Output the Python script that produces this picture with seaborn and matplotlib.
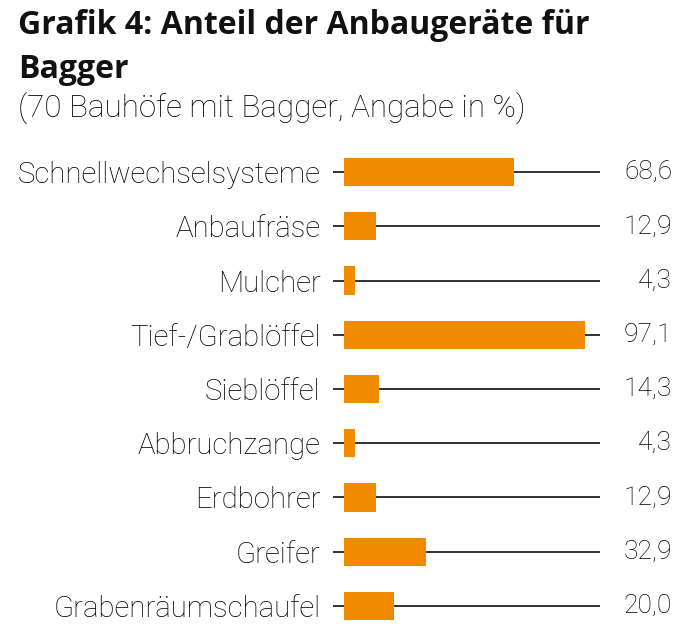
import matplotlib
matplotlib.use("Agg")
import matplotlib.pyplot as plt
import matplotlib.transforms as mtransforms
import seaborn as sns
import pandas as pd

categories = ["Schnellwechselsysteme", "Anbaufräse", "Mulcher", "Tief-/Grablöffel",
              "Sieblöffel", "Abbruchzange", "Erdbohrer", "Greifer", "Grabenräumschaufel"]
values = [68.6, 12.9, 4.3, 97.1, 14.3, 4.3, 12.9, 32.9, 20.0]
title_lines = ["Grafik 4: Anteil der Anbaugeräte für", "Bagger"]
subtitle = "(70 Bauhöfe mit Bagger, Angabe in %)"

df = pd.DataFrame({"cat": categories, "val": values})

sns.set_theme(style="white")
plt.rcParams["font.family"] = ["Roboto", "DejaVu Sans"]

W, H = 700, 637
fig = plt.figure(figsize=(W / 100, H / 100), dpi=100)
ax = fig.add_axes([333 / W, 1 - 633 / H, (600 - 333) / W, (633 - 145) / H])

bar_color = "#F08A00"
txt_color = "#000000"
sns.barplot(data=df, x="val", y="cat", orient="h", color=bar_color, saturation=1,
            width=0.52, ax=ax, zorder=3, edgecolor="none")

for i in range(len(categories)):
    ax.axhline(i, xmin=0, xmax=1, color="#111111", lw=1.2, zorder=1)

ax.set_xlim(-4.4, 103)
ax.set_ylim(len(categories) - 0.5, -0.5)
ax.set_xlabel("")
ax.set_ylabel("")
ax.set_xticks([])
for s in ax.spines.values():
    s.set_visible(False)
ax.tick_params(axis="y", length=0, pad=9, labelsize=21.2, labelcolor=txt_color)
for t in ax.get_yticklabels():
    t.set_fontweight("light")

trans = mtransforms.blended_transform_factory(ax.transAxes, ax.transData)
for i, v in enumerate(values):
    ax.text((672 - 333) / (600 - 333), i, f"{v:.1f}".replace(".", ","), transform=trans,
            ha="right", va="center", fontsize=19, color=txt_color, fontweight="light")

fig.text(18 / W, 1 - 34 / H, title_lines[0], fontsize=23, fontweight="bold",
         family=["Open Sans", "DejaVu Sans"], ha="left", va="baseline", color="#111111")
fig.text(18 / W, 1 - 78 / H, title_lines[1], fontsize=23, fontweight="bold",
         family=["Open Sans", "DejaVu Sans"], ha="left", va="baseline", color="#111111")
fig.text(18 / W, 1 - 117 / H, subtitle, fontsize=22.6, ha="left", va="baseline",
         color=txt_color, fontweight="light")

fig.savefig("out.png", dpi=100)
